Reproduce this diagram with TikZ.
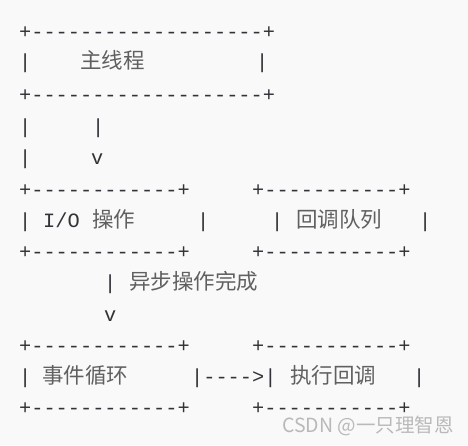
\documentclass[tikz,border=0pt]{standalone}
\usepackage{fontspec}
\setmonofont{Liberation Mono}
\newfontfamily\hanzifont{Noto Sans CJK SC}
\usetikzlibrary{positioning}
\definecolor{asciigray}{RGB}{50,50,56}
\definecolor{hanzigray}{RGB}{96,96,96}
\definecolor{wmgray}{RGB}{185,185,185}
\definecolor{paper}{RGB}{249,249,249}
\tikzset{
  ascii/.style={inner sep=0pt, anchor=base west, text=asciigray,
    font=\ttfamily\fontsize{20.3}{24}\selectfont},   % box borders, bars, arrows
  hanzi/.style={inner sep=0pt, anchor=base west, text=hanzigray,
    font=\hanzifont\fontsize{21.5}{24}\selectfont},  % chinese labels
  wmark/.style={inner sep=0pt, anchor=base west, text=wmgray,
    font=\hanzifont\fontsize{19.5}{24}\selectfont}
}
\newcommand{\WideBorder}{+-------------------+}
\newcommand{\LeftBorder}{+------------+}
\newcommand{\RightBorder}{+-----------+}

\begin{document}
\begin{tikzpicture}[x=1pt, y=-1pt]
  \fill[paper] (0,0) rectangle (468,445);
  \useasboundingbox (0,0) rectangle (468,445);
  % main thread box
  \node[ascii] (mainTop) at (19,38) {\WideBorder};
  \node[ascii] (mainL) at (19,68) {|};
  \node[hanzi] (mainT) at (80,68) {主线程};
  \node[ascii] (mainR) at (256,68) {|};
  \node[ascii] (mainBot) at (19,101) {\WideBorder};
  % down link
  \node[ascii] (linkA) at (19,133) {|};
  \node[ascii] (linkB) at (92,133) {|};
  \node[ascii] (linkC) at (19,164) {|};
  \node[ascii] (arrowA) at (91,164) {v};
  % the four border rows of the small boxes
  \foreach \yy/\nm in {196/a,258/b,352/c,414/d}{
    \node[ascii] (lbox\nm) at (19,\yy) {\LeftBorder};
    \node[ascii] (rbox\nm) at (252,\yy) {\RightBorder};
  }
  % I/O and callback queue
  \node[ascii] (ioL) at (19,227) {|};
  \node[ascii] (ioT) at (43,227) {I/O};
  \node[hanzi] (ioH) at (92,227) {操作};
  \node[ascii] (ioR) at (197,227) {|};
  \node[ascii] (queueL) at (271,227) {|};
  \node[hanzi] (queueT) at (296,227) {回调队列};
  \node[ascii] (queueR) at (419,227) {|};
  % async done
  \node[ascii] (doneBar) at (104,289) {|};
  \node[hanzi] (doneT) at (129,289) {异步操作完成};
  \node[ascii] (arrowB) at (104,321) {v};
  % event loop and run callback
  \node[ascii] (loopL) at (19,383) {|};
  \node[hanzi] (loopT) at (42,383) {事件循环};
  \node[ascii] (loopArrow) at (191,383) {|---->|};
  \node[hanzi] (runT) at (290,383) {执行回调};
  \node[ascii] (runR) at (413,383) {|};
  % watermark
  \node[wmark] (csdn) at (282,432) {CSDN @一只理智恩};
\end{tikzpicture}
\end{document}
